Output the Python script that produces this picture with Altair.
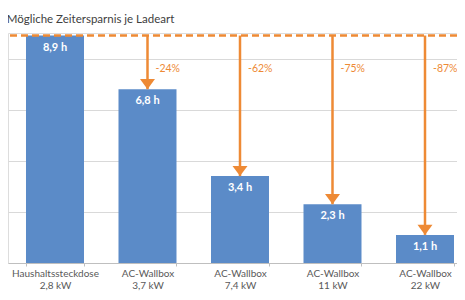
import altair as alt
import pandas as pd

categories = ["Haushaltssteckdose", "AC-Wallbox", "AC-Wallbox", "AC-Wallbox", "AC-Wallbox"]
powers = ["2,8 kW", "3,7 kW", "7,4 kW", "11 kW", "22 kW"]
hours = [8.9, 6.8, 3.4, 2.3, 1.1]
savings = ["", "-24%", "-62%", "-75%", "-87%"]

df = pd.DataFrame({
    "cat": [f"{c}|{p}" for c, p in zip(categories, powers)],
    "hours": hours,
    "hlabel": [f"{h:.1f} h".replace(".", ",") for h in hours],
    "saving": savings,
    "top": [hours[0]] * len(hours),
})
order = list(df["cat"])

FONT = "Lato"
ORANGE = "#EE8A35"
BLUE = "#5B8BC8"

x = alt.X(
    "cat:N",
    sort=order,
    scale=alt.Scale(paddingInner=0.373, paddingOuter=0.1135, align=0.857),
    axis=alt.Axis(
        title=None,
        labelExpr="split(datum.label, '|')",
        labelAngle=0,
        labelFontSize=10,
        labelColor="#595959",
        labelFont=FONT,
        labelPadding=2,
        labelLineHeight=12,
        labelBaseline="top",
        tickBand="extent",
        tickSize=3,
        tickColor="#BFBFBF",
        domainColor="#BFBFBF",
    ),
)
y = alt.Y(
    "hours:Q",
    scale=alt.Scale(domain=[0, 9], nice=False),
    axis=alt.Axis(
        title=None, labels=False, ticks=False, domain=False,
        values=[2, 4, 6, 8], gridColor="#D9D9D9", gridWidth=1,
    ),
)

base = alt.Chart(df)

bars = base.mark_bar(color=BLUE).encode(x=x, y=y)

bar_text = base.mark_text(
    color="white", fontWeight="bold", fontSize=11, font=FONT,
    baseline="middle", dy=12,
).encode(x=alt.X("cat:N", sort=order), y="hours:Q", text="hlabel:N")

dashed = base.mark_rule(
    color=ORANGE, strokeWidth=2.5, strokeDash=[7, 4]
).encode(y=alt.Y("max(top):Q"))

arrows_df = base.transform_filter("datum.saving != ''")

arrow_lines = arrows_df.mark_rule(color=ORANGE, strokeWidth=2.5).encode(
    x=alt.X("cat:N", sort=order), y="hours:Q", y2="top:Q"
)

arrow_heads = arrows_df.mark_point(
    shape="M -1 -1.35 L 1 -1.35 L 0 0 Z", filled=True, color=ORANGE,
    opacity=1, size=225,
).encode(x=alt.X("cat:N", sort=order), y="hours:Q")

pct = arrows_df.mark_text(
    color=ORANGE, fontSize=10.5, font=FONT, align="left", baseline="middle", dx=8,
).encode(x=alt.X("cat:N", sort=order), y=alt.datum(7.6), text="saving:N")

chart = alt.layer(bars, bar_text, dashed, arrow_lines, arrow_heads, pct).properties(
    width=449,
    height=230,
    autosize=alt.AutoSizeParams(type="none"),
    padding={"left": 0, "top": 25, "right": 0, "bottom": 29},
    title=alt.Title(
        "Mögliche Zeitersparnis je Ladeart",
        anchor="start", fontSize=11.5, color="#404040", font=FONT,
        fontWeight="normal", offset=8,
    ),
).configure_view(stroke=None).configure(background="white")

chart.save("out.html", embed_options={"renderer": "svg", "actions": False})
